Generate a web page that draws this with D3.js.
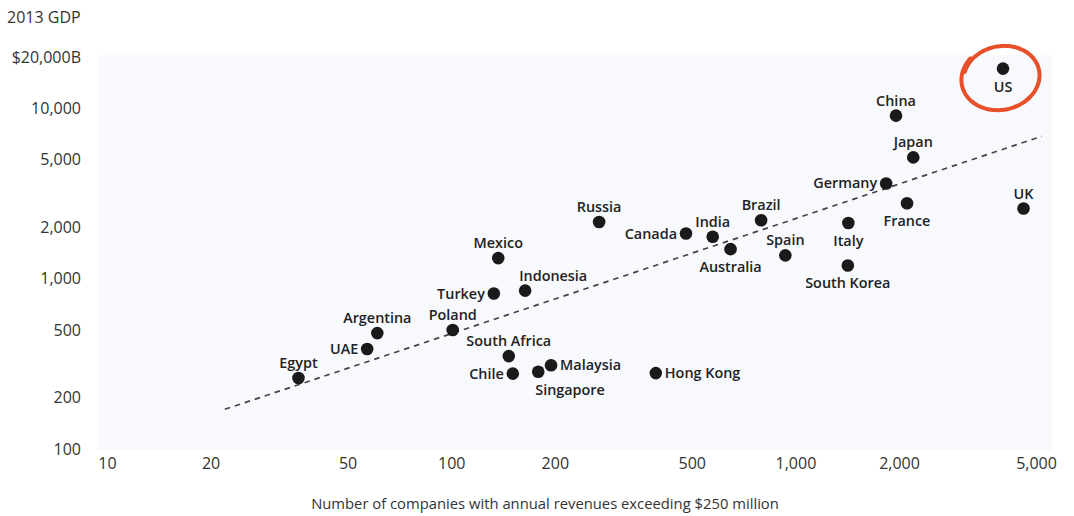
<!DOCTYPE html>
<html><head><meta charset="utf-8">
<script src="https://cdn.jsdelivr.net/npm/d3@7"></script>
<style>
body{margin:0;background:#fff;}
svg{display:block;}
text{font-family:"Open Sans",Lato,sans-serif;}
</style></head>
<body><svg id="c" width="1074" height="516"></svg>
<script>
const countries = ["US","China","Japan","Germany","France","UK","Italy","South Korea","Spain","Brazil","Australia","India","Canada","Russia","Mexico","Indonesia","Turkey","Poland","Argentina","UAE","Egypt","South Africa","Chile","Singapore","Malaysia","Hong Kong"];
const companies = [4010,1960,2200,1835,2110,4600,1425,1420,935,795,648,575,481,269,137,164,133,101,61,57,36,147,151,179,195,393];
const gdp = [17100,9050,5150,3620,2770,2580,2120,1195,1370,2200,1490,1760,1840,2150,1320,850,818,499,479,386,261,351,277,284,310,279];
const labelPos = ["below","above","above","left","below","above","below","below","above","above","below","above","left","above","above","aboveStart","left","above","above","left","above","above","left","belowStart","right","right"];
const trendX = [22, 5200];
const trendY = [171, 6850];
const xTicks = [10,20,50,100,200,500,1000,2000,5000];
const yTicks = [100,200,500,1000,2000,5000,10000,20000];

const svg = d3.select("#c");
const x = d3.scaleLog().domain([10,5000]).range([107,1036]);
const y = d3.scaleLog().domain([100,20000]).range([449,57]);

svg.append("rect").attr("x",98).attr("y",55).attr("width",954).attr("height",395).attr("fill","#f7f9fd");

const fmt = d3.format(",");
const yAxis = d3.axisLeft(y).tickValues(yTicks).tickSize(0).tickPadding(0)
  .tickFormat(d => d===20000 ? "$20,000B" : fmt(d));
const gy = svg.append("g").attr("transform","translate(81,0)").call(yAxis);
const xAxis = d3.axisBottom(x).tickValues(xTicks).tickSize(0).tickPadding(0).tickFormat(fmt);
const gx = svg.append("g").attr("transform","translate(0,458)").call(xAxis);
[gx,gy].forEach(g=>{
  g.select(".domain").remove();
  g.selectAll("text").attr("font-family","'Open Sans',Lato,sans-serif").attr("font-size",16).attr("fill","#333");
});

svg.append("text").attr("x",7).attr("y",23).attr("font-size",16).attr("fill","#333").text("2013 GDP");
svg.append("text").attr("x",545).attr("y",509).attr("text-anchor","middle").attr("font-size",14.8).attr("fill","#333")
  .text("Number of companies with annual revenues exceeding $250 million");

svg.append("line")
  .attr("x1",x(trendX[0])).attr("y1",y(trendY[0]))
  .attr("x2",x(trendX[1])).attr("y2",y(trendY[1]))
  .attr("stroke","#444").attr("stroke-width",1.7).attr("stroke-dasharray","5.5,5");

const data = countries.map((c,i)=>({c, x:companies[i], y:gdp[i], p:labelPos[i]}));
svg.append("g").selectAll("circle").data(data).join("circle")
  .attr("cx",d=>x(d.x)).attr("cy",d=>y(d.y)).attr("r",6.3).attr("fill","#1a1a1a");

svg.append("g").selectAll("text").data(data).join("text")
  .attr("font-size",14.4).attr("font-weight",600).attr("fill","#222")
  .text(d=>d.c)
  .attr("x",d=>{const px=x(d.x);
    if(d.p==="left") return px-9;
    if(d.p==="right") return px+9;
    if(d.p==="aboveStart") return px-6;
    if(d.p==="belowStart") return px-3;
    return px;})
  .attr("y",d=>{const py=y(d.y);
    if(d.p==="above"||d.p==="aboveStart") return py-10;
    if(d.p==="below"||d.p==="belowStart") return py+23;
    return py+5;})
  .attr("text-anchor",d=>d.p==="left"?"end":(d.p==="right"||d.p==="aboveStart"||d.p==="belowStart")?"start":"middle");

// hand-drawn red ellipse around US
const us = data[0];
const cx = x(us.x)-2, cy = y(us.y)+9;
const pts = [];
for(let i=0;i<=80;i++){
  const t = i/80;
  const a = (205 + t*385) * Math.PI/180;
  const k = 1 + 0.06*(t-0.5);
  const rx = 39*k, ry = 32*k;
  const ex = rx*Math.cos(a), ey = ry*Math.sin(a);
  const r = -12*Math.PI/180;
  pts.push([cx + ex*Math.cos(r) - ey*Math.sin(r), cy + ex*Math.sin(r) + ey*Math.cos(r)]);
}
svg.append("path").attr("d",d3.line().curve(d3.curveBasis)(pts))
  .attr("fill","none").attr("stroke","#e8502a").attr("stroke-width",4).attr("stroke-linecap","round");
</script></body></html>
